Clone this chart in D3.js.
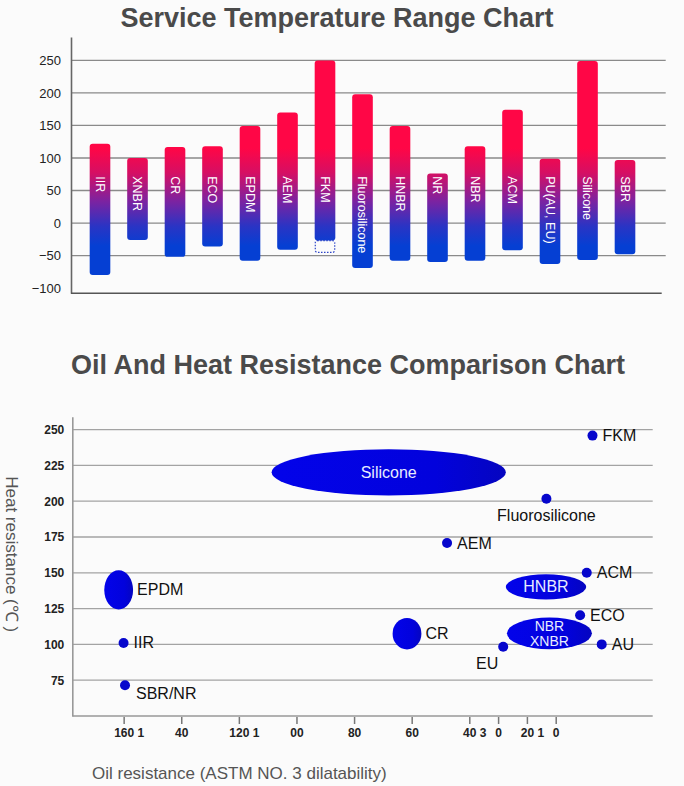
<!DOCTYPE html>
<html>
<head>
<meta charset="utf-8">
<script src="https://cdn.jsdelivr.net/npm/d3@7/dist/d3.min.js"></script>
<style>
  html, body { margin: 0; padding: 0; background: #fbfbfb; }
  svg { display: block; font-family: "Liberation Sans", Arial, Helvetica, sans-serif; }
</style>
</head>
<body>
<svg id="chart" width="684" height="786"></svg>
<script>
// ---------------- DATA ----------------
// Chart 1: service temperature range
const tempCategories = ["IIR", "XNBR", "CR", "ECO", "EPDM", "AEM", "FKM", "Fluorosilicone", "HNBR", "NR", "NBR", "ACM", "PU(AU, EU)", "Silicone", "SBR"];
const tempMax = [122, 100, 117, 118, 149, 170, 250, 198, 149, 76, 118, 174, 99, 249, 97];
const tempMin = [-80, -26, -52, -36, -58, -41, -27, -69, -58, -60, -58, -42, -63, -57, -48];
const tempMinExtended = [null, null, null, null, null, null, -45, null, null, null, null, null, null, null, null];
const tempTicks = [250, 200, 150, 100, 50, 0, -50, -100];

// Chart 2: oil and heat resistance
const rangeNames = ["Silicone", "HNBR", "NBR/XNBR", "CR", "EPDM"];
const rangeLabelLines = [["Silicone"], ["HNBR"], ["NBR", "XNBR"], ["CR"], ["EPDM"]];
const rangeOilFrom = [108.8, 27.5, 27.1, 66.8, 166.9];
const rangeOilTo = [27.5, -0.4, -2.4, 56.8, 156.9];
const rangeHeatFrom = [204, 131.3, 96.6, 96.5, 124.3];
const rangeHeatTo = [236.3, 148.9, 118.8, 118.5, 151.7];

const pointNames = ["FKM", "Fluorosilicone", "AEM", "ACM", "ECO", "AU", "EU", "IIR", "SBR/NR"];
const pointOil = [-2.6, 13.4, 47.9, -0.6, 1.7, -5.8, 28.4, 160.2, 159.7];
const pointHeat = [245.8, 201.7, 170.8, 150, 120.4, 100, 98.3, 101, 71.5];

const heatTicks = [250, 225, 200, 175, 150, 125, 100, 75];
const oilTicks = [160, 140, 120, 100, 80, 60, 40, 30, 20, 10];
const oilTickLabels = ["160 1", "40", "120 1", "00", "80", "60", "40 3", "0", "20 1", "0"];

// ---------------- STYLE / LAYOUT ----------------
const rangeLabelInside = {"Silicone": true, "HNBR": true, "NBR/XNBR": true, "CR": false, "EPDM": false};
const pointLabelPlacement = {
  "FKM": "right", "Fluorosilicone": "below", "AEM": "right", "ACM": "right",
  "ECO": "right", "AU": "right", "EU": "belowLeft", "IIR": "right", "SBR/NR": "belowRight"
};

const svg = d3.select("#chart");
const defs = svg.append("defs");

// ---------------- CHART 1 ----------------
const y1 = d3.scaleLinear().domain([-108, 286]).range([293.3, 37]);
const x1 = d3.scaleBand().domain(tempCategories).range([81.25, 643.75]).paddingInner(0.45).paddingOuter(0.225);
const axisLeft1 = 71, axisRight1 = 665.7;

svg.append("text")
  .attr("x", 337).attr("y", 27)
  .attr("text-anchor", "middle")
  .attr("font-size", 27).attr("font-weight", "bold")
  .attr("fill", "#4a4a4a")
  .text("Service Temperature Range Chart");

// gradient in temperature space
const grad = defs.append("linearGradient")
  .attr("id", "tempGrad")
  .attr("gradientUnits", "userSpaceOnUse")
  .attr("x1", 0).attr("x2", 0)
  .attr("y1", y1(115)).attr("y2", y1(-35));
grad.append("stop").attr("offset", "0%").attr("stop-color", "#ff0646");
grad.append("stop").attr("offset", "25%").attr("stop-color", "#d60f63");
grad.append("stop").attr("offset", "55%").attr("stop-color", "#7a23a2");
grad.append("stop").attr("offset", "80%").attr("stop-color", "#2a34c4");
grad.append("stop").attr("offset", "100%").attr("stop-color", "#053fd3");

// gridlines
svg.append("g").selectAll("line")
  .data(tempTicks.filter(d => d > -100))
  .join("line")
  .attr("x1", axisLeft1).attr("x2", axisRight1)
  .attr("y1", d => y1(d)).attr("y2", d => y1(d))
  .attr("stroke", "#8a8a8a").attr("stroke-width", 1.3);

// y axis
const yAxis1 = svg.append("g")
  .attr("transform", `translate(${axisLeft1},0)`)
  .call(d3.axisLeft(y1).tickValues(tempTicks).tickSize(0).tickPadding(10));
yAxis1.select(".domain").attr("stroke", "#666").attr("stroke-width", 1.6);
yAxis1.selectAll("text").attr("font-size", 13).attr("fill", "#222").attr("font-family", "Liberation Sans, Arial, sans-serif");

// x axis line
svg.append("line")
  .attr("x1", axisLeft1).attr("x2", 661.7)
  .attr("y1", y1(-108)).attr("y2", y1(-108))
  .attr("stroke", "#555").attr("stroke-width", 1.6);

// bars
const bars = svg.append("g");
bars.selectAll("rect.bar")
  .data(tempCategories)
  .join("rect")
  .attr("class", "bar")
  .attr("x", d => x1(d))
  .attr("width", x1.bandwidth())
  .attr("y", (d, i) => y1(tempMax[i]))
  .attr("height", (d, i) => y1(tempMin[i]) - y1(tempMax[i]))
  .attr("rx", 3).attr("ry", 3)
  .attr("fill", "url(#tempGrad)");

// dotted extension
bars.selectAll("rect.ext")
  .data(tempCategories.map((c, i) => ({c, i})).filter(o => tempMinExtended[o.i] !== null))
  .join("rect")
  .attr("class", "ext")
  .attr("x", o => x1(o.c) + 0.6)
  .attr("width", x1.bandwidth() - 1.2)
  .attr("y", o => y1(tempMin[o.i]))
  .attr("height", o => y1(tempMinExtended[o.i]) - y1(tempMin[o.i]))
  .attr("rx", 2)
  .attr("fill", "none")
  .attr("stroke", "#2c44c8").attr("stroke-width", 1.2)
  .attr("stroke-dasharray", "1.5,1.5");

// bar labels
bars.selectAll("text")
  .data(tempCategories)
  .join("text")
  .attr("transform", d => `translate(${x1(d) + x1.bandwidth() / 2},${y1(72)}) rotate(90)`)
  .attr("dy", "0.35em")
  .attr("text-anchor", "start")
  .attr("font-size", 12.5)
  .attr("fill", "#ffffff")
  .text(d => d);

// ---------------- CHART 2 ----------------
svg.append("text")
  .attr("x", 348).attr("y", 374)
  .attr("text-anchor", "middle")
  .attr("font-size", 27).attr("font-weight", "bold")
  .attr("fill", "#4a4a4a")
  .text("Oil And Heat Resistance Comparison Chart");

const y2 = d3.scaleLinear().domain([50, 259]).range([716, 416.7]);
const x2 = d3.scaleLinear().domain([178, -23.5]).range([72.3, 652.7]);

// gridlines
svg.append("g").selectAll("line")
  .data(heatTicks)
  .join("line")
  .attr("x1", x2(178)).attr("x2", x2(-23.5))
  .attr("y1", d => y2(d)).attr("y2", d => y2(d))
  .attr("stroke", "#a3a3a3").attr("stroke-width", 1.3);

// y axis
const yAxis2 = svg.append("g")
  .attr("transform", `translate(${x2(178)},0)`)
  .call(d3.axisLeft(y2).tickValues(heatTicks).tickSize(0).tickSizeOuter(0).tickPadding(8));
yAxis2.select(".domain").attr("stroke", "#999").attr("stroke-width", 1.6);
yAxis2.selectAll("text").attr("font-size", 12).attr("font-weight", "bold").attr("fill", "#222").attr("font-family", "Liberation Sans, Arial, sans-serif");

// x axis line
svg.append("line")
  .attr("x1", x2(178)).attr("x2", x2(-23.5))
  .attr("y1", y2(50)).attr("y2", y2(50))
  .attr("stroke", "#999").attr("stroke-width", 1.6);

// x tick marks
svg.append("g").selectAll("line")
  .data(oilTicks)
  .join("line")
  .attr("x1", d => x2(d)).attr("x2", d => x2(d))
  .attr("y1", y2(50) + 1).attr("y2", y2(50) + 8)
  .attr("stroke", "#777").attr("stroke-width", 1.5);

// x tick labels: first token centred on tick
const xLabelG = svg.append("g");
oilTicks.forEach((v, i) => {
  const parts = oilTickLabels[i].split(" ");
  const t = xLabelG.append("text")
    .attr("y", y2(50) + 21)
    .attr("font-size", 12)
    .attr("font-weight", "bold")
    .attr("fill", "#222")
    .attr("text-anchor", "start");
  const first = t.append("tspan").text(parts[0]);
  if (parts.length > 1) t.append("tspan").text(" " + parts.slice(1).join(" "));
  const w = first.node().getComputedTextLength();
  t.attr("x", x2(v) - w / 2);
});

// axis titles
svg.append("text")
  .attr("transform", `translate(6,${y2(163)}) rotate(90)`)
  .attr("text-anchor", "middle")
  .attr("font-size", 17)
  .attr("fill", "#555")
  .text("Heat resistance (℃ )");

svg.append("text")
  .attr("x", 92).attr("y", 779)
  .attr("font-size", 17)
  .attr("fill", "#555")
  .text("Oil resistance (ASTM NO. 3 dilatability)");

// ellipse gradient
const eg = defs.append("linearGradient").attr("id", "ellGrad")
  .attr("x1", "0%").attr("x2", "100%").attr("y1", "0%").attr("y2", "0%");
eg.append("stop").attr("offset", "0%").attr("stop-color", "#0303ea");
eg.append("stop").attr("offset", "70%").attr("stop-color", "#0202dc");
eg.append("stop").attr("offset", "100%").attr("stop-color", "#0505c0");

// ranges (ellipses)
const ranges = rangeNames.map((n, i) => {
  const xa = x2(rangeOilFrom[i]), xb = x2(rangeOilTo[i]);
  const ya = y2(rangeHeatFrom[i]), yb = y2(rangeHeatTo[i]);
  return {n, lines: rangeLabelLines[i], cx: (xa + xb) / 2, cy: (ya + yb) / 2, rx: Math.abs(xb - xa) / 2, ry: Math.abs(ya - yb) / 2};
});
const rg = svg.append("g");
rg.selectAll("ellipse")
  .data(ranges)
  .join("ellipse")
  .attr("cx", d => d.cx).attr("cy", d => d.cy)
  .attr("rx", d => d.rx).attr("ry", d => d.ry)
  .attr("fill", "url(#ellGrad)");

ranges.forEach(d => {
  const inside = rangeLabelInside[d.n];
  const n = d.lines.length;
  const fs = n > 1 ? 14 : 16;
  const lh = 14.5;
  d.lines.forEach((line, k) => {
    rg.append("text")
      .attr("font-size", fs)
      .attr("fill", inside ? "#e8ecff" : "#111")
      .attr("text-anchor", inside ? "middle" : "start")
      .attr("x", inside ? d.cx : d.cx + d.rx + 4)
      .attr("y", d.cy + (n > 1 ? 5 : 5.5) + (k - (n - 1) / 2) * lh)
      .text(line);
  });
});

// points
const pts = pointNames.map((n, i) => ({n, x: x2(pointOil[i]), y: y2(pointHeat[i])}));
const pg = svg.append("g");
pg.selectAll("circle")
  .data(pts)
  .join("circle")
  .attr("cx", d => d.x).attr("cy", d => d.y)
  .attr("r", 5)
  .attr("fill", "#0606cc");

pg.selectAll("text")
  .data(pts)
  .join("text")
  .attr("font-size", 16)
  .attr("fill", "#111")
  .attr("text-anchor", d => {
    const p = pointLabelPlacement[d.n];
    return p === "below" || p === "belowLeft" ? "middle" : "start";
  })
  .attr("x", d => {
    const p = pointLabelPlacement[d.n];
    if (p === "right") return d.x + 10;
    if (p === "below") return d.x;
    if (p === "belowLeft") return d.x - 16;
    return d.x + 11;
  })
  .attr("y", d => {
    const p = pointLabelPlacement[d.n];
    if (p === "right") return d.y + 5.5;
    if (p === "below") return d.y + 22;
    if (p === "belowLeft") return d.y + 22;
    return d.y + 13.5;
  })
  .text(d => d.n);
</script>
</body>
</html>
